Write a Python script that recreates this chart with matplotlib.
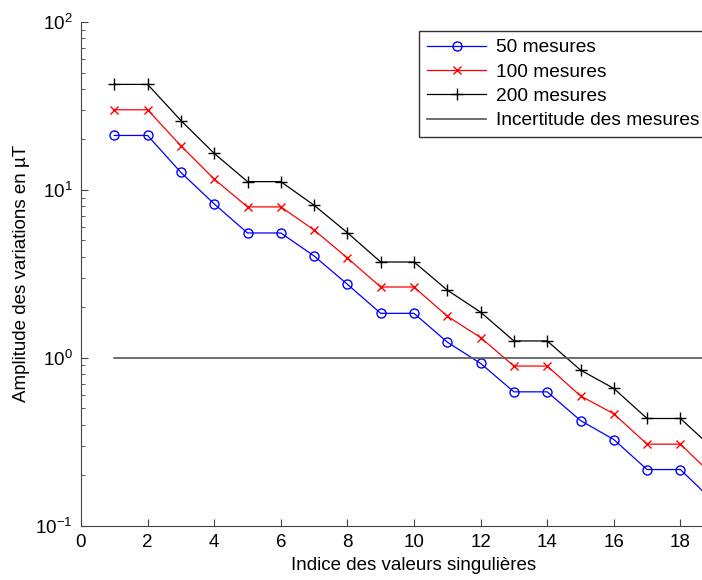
import numpy as np
import matplotlib
matplotlib.use("Agg")
import matplotlib.pyplot as plt

plt.rcParams['font.family'] = ['Liberation Sans', 'DejaVu Sans']
plt.rcParams['mathtext.default'] = 'regular'

# indices des valeurs singulieres
indices = list(range(1, 20))

# amplitudes (uT)
mes_50 = [21.1, 21.1, 12.7, 8.25, 5.54, 5.54, 4.04, 2.74, 1.84, 1.84,
          1.24, 0.926, 0.627, 0.627, 0.423, 0.326, 0.216, 0.216, 0.139]
mes_100 = [30.0, 30.0, 18.3, 11.6, 7.92, 7.92, 5.77, 3.93, 2.64, 2.64,
           1.77, 1.32, 0.893, 0.893, 0.593, 0.464, 0.306, 0.306, 0.197]
mes_200 = [42.5, 42.5, 25.9, 16.5, 11.2, 11.2, 8.1, 5.56, 3.72, 3.72,
           2.53, 1.87, 1.26, 1.26, 0.845, 0.657, 0.435, 0.435, 0.286]
incertitude = 1.0

W, H = 702, 580
fig = plt.figure(figsize=(W / 100, H / 100), dpi=100)
ax = fig.add_axes([81 / W, (H - 525.7) / H, 666 / W, (525.7 - 22) / H])

ax.plot(indices, mes_50, color='b', marker='o', ms=6.5, mfc='none', lw=0.9,
        label='50 mesures')
ax.plot(indices, mes_100, color='r', marker='x', ms=6, lw=0.9,
        label='100 mesures')
ax.plot(indices, mes_200, color='k', marker='+', ms=8, lw=0.9, mew=1,
        label='200 mesures')
ax.plot([1, 20], [incertitude, incertitude], color='#555555', lw=1.2,
        label='Incertitude des mesures')

ax.set_yscale('log')
ax.set_ylim(0.1, 100)
ax.set_xlim(0, 20)
ax.set_xticks(range(0, 19, 2))

for s in ['top', 'right']:
    ax.spines[s].set_visible(False)
for s in ['left', 'bottom']:
    ax.spines[s].set_color('#444444')
ax.tick_params(which='major', direction='in', length=5, labelsize=13.5,
               color='#444444', pad=6)
ax.tick_params(which='minor', direction='in', length=3, color='#444444')
ax.tick_params(axis='x', which='minor', bottom=False)

ax.set_xlabel('Indice des valeurs singulières', fontsize=13.5, labelpad=4)
ax.set_ylabel('Amplitude des variations en µT', fontsize=13.5, labelpad=4)

leg = ax.legend(loc='upper left', bbox_to_anchor=(419 / W, 1 - 31 / H),
                bbox_transform=fig.transFigure, fontsize=13.8, fancybox=False,
                framealpha=1, edgecolor='#333333', handlelength=3.1,
                handletextpad=0.5, labelspacing=0.36, borderpad=0.42,
                borderaxespad=0)
leg.get_frame().set_linewidth(1)

fig.savefig('out.png', dpi=100)
